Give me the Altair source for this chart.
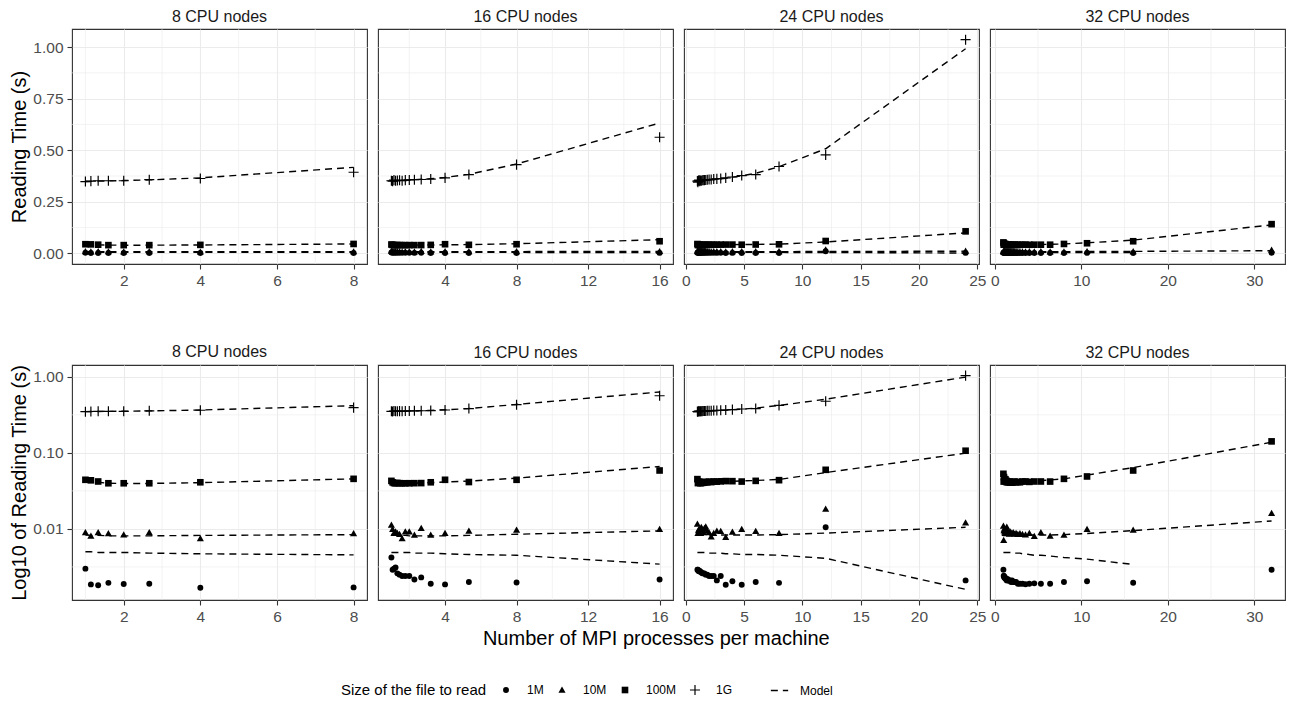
import altair as alt
import pandas as pd

FONT = "Liberation Sans"
SIZES = ["1M", "10M", "100M", "1G"]
NODES = [8, 16, 24, 32]

# ---- processes per machine (x) for each node count ----
X8 = [1, 1.143, 1.333, 1.6, 2, 2.667, 4, 8]
X16 = [1, 1.067, 1.143, 1.231, 1.333, 1.455, 1.6, 1.778, 2, 2.286, 2.667, 3.2, 4, 5.333, 8, 16]
X24 = [1, 1.043, 1.091, 1.143, 1.2, 1.263, 1.333, 1.412, 1.5, 1.6, 1.714, 1.846, 2, 2.182,
       2.4, 2.667, 3, 3.429, 4, 4.8, 6, 8, 12, 24]
X32 = [1, 1.032, 1.067, 1.103, 1.143, 1.185, 1.231, 1.28, 1.333, 1.391, 1.455, 1.524, 1.6,
       1.684, 1.778, 1.882, 2, 2.133, 2.286, 2.462, 2.667, 2.909, 3.2, 3.556, 4, 4.571, 5.333,
       6.4, 8, 10.667, 16, 32]

# ---- measured reading times (s) ----
T8_1M = [0.0030, 0.00186, 0.00181, 0.00195, 0.00188, 0.0019, 0.00168, 0.0017]
T8_10M = [0.0090, 0.0081, 0.0090, 0.0087, 0.0084, 0.0090, 0.0075, 0.0087]
T8_100M = [0.0442, 0.0435, 0.0420, 0.0398, 0.0398, 0.0398, 0.0410, 0.0455]
T8_1G = [0.348, 0.350, 0.352, 0.352, 0.352, 0.357, 0.363, 0.393]

T16_1M = [0.0042, 0.0029, 0.0030, 0.0031, 0.0026, 0.0025, 0.0024, 0.0024, 0.0024, 0.00216,
          0.0023, 0.0019, 0.00186, 0.0020, 0.00197, 0.00216]
T16_10M = [0.0113, 0.0099, 0.0088, 0.0092, 0.0088, 0.0085, 0.0075, 0.0092, 0.0092, 0.0083,
           0.0102, 0.0083, 0.0088, 0.0094, 0.0097, 0.0099]
T16_100M = [0.0428, 0.0409, 0.0400, 0.0398, 0.0402, 0.0399, 0.0397, 0.0398, 0.0398, 0.0399,
            0.0400, 0.0410, 0.0442, 0.0413, 0.0442, 0.0586]
T16_1G = [0.352, 0.350, 0.355, 0.352, 0.353, 0.354, 0.352, 0.355, 0.356, 0.357, 0.358, 0.360,
          0.366, 0.382, 0.430, 0.563]

T24_1M = [0.0029, 0.0029, 0.0028, 0.0028, 0.0028, 0.0027, 0.0027, 0.0026, 0.0026, 0.0026,
          0.0025, 0.0025, 0.0024, 0.0024, 0.0024, 0.0021, 0.0024, 0.00184, 0.00205, 0.00184,
          0.0020, 0.00195, 0.0105, 0.0021]
T24_10M = [0.0116, 0.0088, 0.0095, 0.0100, 0.0092, 0.0088, 0.0105, 0.0098, 0.0090, 0.0102,
           0.0107, 0.0094, 0.0090, 0.0079, 0.0088, 0.0094, 0.0093, 0.0078, 0.0091, 0.0099,
           0.0093, 0.0088, 0.0183, 0.0121]
T24_100M = [0.0451, 0.0400, 0.0420, 0.0405, 0.0415, 0.0398, 0.0410, 0.0402, 0.0412, 0.0405,
            0.0415, 0.0410, 0.0418, 0.0412, 0.0420, 0.0418, 0.0422, 0.0425, 0.0424, 0.0419,
            0.0428, 0.0437, 0.0598, 0.1066]
T24_1G = [0.350, 0.345, 0.352, 0.355, 0.350, 0.353, 0.352, 0.354, 0.355, 0.355, 0.356, 0.357,
          0.358, 0.358, 0.360, 0.361, 0.363, 0.366, 0.370, 0.377, 0.382, 0.421, 0.477, 1.036]

T32_1M = [0.0029, 0.0024, 0.0024, 0.0023, 0.0023, 0.0023, 0.0022, 0.0022, 0.0022, 0.0021,
          0.0022, 0.0021, 0.0021, 0.0021, 0.0021, 0.0020, 0.0021, 0.0020, 0.0020, 0.0020,
          0.0019, 0.0019, 0.0019, 0.00187, 0.0019, 0.00192, 0.0019, 0.0019, 0.0020, 0.00205,
          0.00196, 0.0029]
T32_10M = [0.0109, 0.0071, 0.0095, 0.0100, 0.0092, 0.0088, 0.0098, 0.0090, 0.0087, 0.0106,
           0.0095, 0.0090, 0.0088, 0.0086, 0.0092, 0.0089, 0.0087, 0.0090, 0.0086, 0.0088,
           0.0085, 0.0087, 0.0085, 0.0084, 0.0088, 0.0080, 0.0090, 0.0081, 0.0083, 0.0099,
           0.0097, 0.0161]
T32_100M = [0.0530, 0.0419, 0.0480, 0.0450, 0.0440, 0.0430, 0.0450, 0.0420, 0.0430, 0.0410,
            0.0420, 0.0415, 0.0410, 0.0420, 0.0405, 0.0410, 0.0405, 0.0410, 0.0420, 0.0410,
            0.0415, 0.0410, 0.0420, 0.0420, 0.0415, 0.0420, 0.0420, 0.0419, 0.0455, 0.0489,
            0.0586, 0.1415]
T32_1G = [None] * 32

# ---- model predictions (s) ----
M8_1M = [0.0050, 0.0050, 0.0049, 0.0049, 0.0049, 0.0048, 0.0047, 0.00455]
M8_10M = [0.0083, 0.0082, 0.0082, 0.0081, 0.0081, 0.0081, 0.0082, 0.0084]
M8_100M = [0.0435, 0.0425, 0.0410, 0.0398, 0.0395, 0.0396, 0.0405, 0.0455]
M8_1G = [0.348, 0.349, 0.350, 0.351, 0.353, 0.356, 0.366, 0.417]

M16_1M = [0.0049, 0.0049, 0.0049, 0.0049, 0.0049, 0.0049, 0.0049, 0.0049, 0.0049, 0.0048,
          0.0048, 0.0048, 0.0047, 0.0046, 0.0045, 0.00344]
M16_10M = [0.0085, 0.0084, 0.0084, 0.0083, 0.0083, 0.0082, 0.0082, 0.0082, 0.0081, 0.0081,
           0.0081, 0.0081, 0.0081, 0.0082, 0.0085, 0.0094]
M16_100M = [0.0405, 0.0403, 0.0401, 0.0400, 0.0399, 0.0398, 0.0398, 0.0398, 0.0399, 0.0400,
            0.0402, 0.0406, 0.0413, 0.0425, 0.0465, 0.0662]
M16_1G = [0.350, 0.350, 0.351, 0.351, 0.352, 0.352, 0.353, 0.354, 0.355, 0.357, 0.359, 0.362,
          0.368, 0.383, 0.433, 0.632]

M24_1M = [0.0049, 0.0049, 0.0049, 0.0049, 0.0049, 0.0049, 0.0049, 0.0049, 0.0049, 0.0049,
          0.0049, 0.0049, 0.0048, 0.0048, 0.0048, 0.0048, 0.0048, 0.0047, 0.0047, 0.0046,
          0.0046, 0.0045, 0.0041, 0.0016]
M24_10M = [0.0086, 0.0086, 0.0085, 0.0085, 0.0085, 0.0084, 0.0084, 0.0084, 0.0083, 0.0083,
           0.0083, 0.0083, 0.0083, 0.0083, 0.0083, 0.0083, 0.0083, 0.0083, 0.0083, 0.0083,
           0.0083, 0.0084, 0.0088, 0.0105]
M24_100M = [0.0420, 0.0420, 0.0419, 0.0419, 0.0418, 0.0418, 0.0418, 0.0418, 0.0418, 0.0418,
            0.0418, 0.0418, 0.0418, 0.0418, 0.0419, 0.0419, 0.0420, 0.0421, 0.0423, 0.0427,
            0.0433, 0.0447, 0.0550, 0.0990]
M24_1G = [0.349, 0.349, 0.349, 0.350, 0.350, 0.350, 0.351, 0.351, 0.352, 0.352, 0.353, 0.354,
          0.355, 0.356, 0.357, 0.359, 0.361, 0.364, 0.369, 0.376, 0.388, 0.420, 0.507, 0.992]

M32_1M = [0.0049, 0.0049, 0.0049, 0.0049, 0.0049, 0.0049, 0.0049, 0.0049, 0.0049, 0.0049,
          0.0049, 0.0049, 0.0049, 0.0049, 0.0049, 0.0049, 0.0048, 0.0048, 0.0048, 0.0048,
          0.0048, 0.0048, 0.0047, 0.0047, 0.0046, 0.0045, 0.0045, 0.0044, 0.0042, 0.0040,
          0.0034, None]
M32_10M = [0.0084, 0.0084, 0.0084, 0.0084, 0.0084, 0.0084, 0.0084, 0.0083, 0.0083, 0.0083,
           0.0083, 0.0083, 0.0083, 0.0083, 0.0083, 0.0083, 0.0083, 0.0083, 0.0083, 0.0083,
           0.0083, 0.0083, 0.0083, 0.0083, 0.0083, 0.0083, 0.0083, 0.0083, 0.0084, 0.0087,
           0.0095, 0.0127]
M32_100M = [0.0425, 0.0424, 0.0423, 0.0422, 0.0421, 0.0420, 0.0420, 0.0419, 0.0419, 0.0418,
            0.0418, 0.0418, 0.0418, 0.0418, 0.0418, 0.0418, 0.0418, 0.0418, 0.0418, 0.0419,
            0.0419, 0.0420, 0.0421, 0.0422, 0.0424, 0.0427, 0.0432, 0.0440, 0.0455, 0.0510,
            0.0640, 0.1380]
M32_1G = [None] * 32

# ---- axis breaks ----
XTICKS = {8: [2, 4, 6, 8], 16: [4, 8, 12, 16], 24: [0, 5, 10, 15, 20, 25], 32: [0, 10, 20, 30]}
XMINOR = {8: [1, 3, 5, 7], 16: [2, 6, 10, 14], 24: [2.5, 7.5, 12.5, 17.5, 22.5], 32: [5, 15, 25]}
Y_LIN_TICKS = [0, 0.25, 0.5, 0.75, 1.0]
Y_LIN_MINOR = [0.125, 0.375, 0.625, 0.875]
Y_LOG_TICKS = [0.01, 0.1, 1.0]
Y_LOG_MINOR = [0.00316, 0.0316, 0.316]

XS = {8: X8, 16: X16, 24: X24, 32: X32}
MEAS = {
    8: [T8_1M, T8_10M, T8_100M, T8_1G],
    16: [T16_1M, T16_10M, T16_100M, T16_1G],
    24: [T24_1M, T24_10M, T24_100M, T24_1G],
    32: [T32_1M, T32_10M, T32_100M, T32_1G],
}
MODEL = {
    8: [M8_1M, M8_10M, M8_100M, M8_1G],
    16: [M16_1M, M16_10M, M16_100M, M16_1G],
    24: [M24_1M, M24_10M, M24_100M, M24_1G],
    32: [M32_1M, M32_10M, M32_100M, M32_1G],
}

pts_rows, mod_rows = [], []
for n in NODES:
    for s, tv, mv in zip(SIZES, MEAS[n], MODEL[n], strict=True):
        for x, t in zip(XS[n], tv, strict=True):
            if t is not None:
                pts_rows.append({"nodes": n, "x": x, "t": t, "size": s})
        for x, m in zip(XS[n], mv, strict=True):
            if m is not None:
                mod_rows.append({"nodes": n, "x": x, "m": m, "size": s, "lt": "Model"})
df_pts = pd.DataFrame(pts_rows)
df_mod = pd.DataFrame(mod_rows)

# glyph outlines in Vega's unit symbol coordinates
TRI = "M0,-1.15L1.2,0.95L-1.2,0.95Z"
SQR = "M-1.12,-1.12H1.12V1.12H-1.12Z"
PLUS = "M-1.7,-0.2H-0.2V-1.7H0.2V-0.2H1.7V0.2H0.2V1.7H-0.2V0.2H-1.7Z"
GRID = "#EBEBEB"
PW, PH = 295, 235

shape_enc = alt.Shape(
    "size:N",
    scale=alt.Scale(domain=SIZES, range=["circle", TRI, SQR, PLUS]),
    legend=alt.Legend(
        title="Size of the file to read", orient="none", legendX=269, legendY=655,
        direction="horizontal", titleOrient="left", titleFontSize=15,
        titleFontWeight="normal", titleColor="black", titlePadding=13,
        titleBaseline="middle", labelFontSize=12, labelColor="black",
        symbolFillColor="black", symbolStrokeColor="black", symbolStrokeWidth=0,
        symbolSize=35, labelOffset=15, columnPadding=12,
    ),
)
dash_enc = alt.StrokeDash(
    "lt:N",
    scale=alt.Scale(domain=["Model"], range=[[7, 5]]),
    legend=alt.Legend(
        title=None, orient="none", legendX=698, legendY=652,
        labelFontSize=12, labelColor="black", symbolType="stroke",
        symbolStrokeColor="black", symbolStrokeWidth=1.4, symbolSize=300,
        labelOffset=11,
    ),
)


def panel(n, row):
    xs = XS[n]
    lo, hi = min(xs), max(xs)
    pad = 0.05 * (hi - lo)
    xscale = alt.Scale(domain=[lo - pad, hi + pad], nice=False, zero=False)
    xaxis = alt.Axis(values=XTICKS[n], format="d", title=None, grid=True)
    first = n == 8
    if row == 0:
        yscale = alt.Scale(domain=[-0.0517, 1.0877], nice=False, zero=False)
        yvals, yminor, ytitle = Y_LIN_TICKS, Y_LIN_MINOR, "Reading Time (s)"
    else:
        yscale = alt.Scale(type="log", domain=[0.00116, 1.43], nice=False)
        yvals, yminor, ytitle = Y_LOG_TICKS, Y_LOG_MINOR, "Log10 of Reading Time (s)"
    if first:
        yaxis = alt.Axis(values=yvals, format=".2f", title=ytitle, grid=True)
    else:
        yaxis = alt.Axis(values=yvals, title=None, labels=False, ticks=False, grid=True)

    xminor = alt.Chart(pd.DataFrame({"v": XMINOR[n]})).mark_rule(
        color=GRID, strokeWidth=0.6).encode(x=alt.X("v:Q", scale=xscale, axis=xaxis))
    yminor_l = alt.Chart(pd.DataFrame({"v": yminor})).mark_rule(
        color=GRID, strokeWidth=0.6).encode(y=alt.Y("v:Q", scale=yscale, axis=yaxis))
    lines = alt.Chart(df_mod[df_mod.nodes == n]).mark_line(
        color="black", strokeWidth=1.4).encode(
        x=alt.X("x:Q", scale=xscale, axis=xaxis),
        y=alt.Y("m:Q", scale=yscale, axis=yaxis),
        detail="size:N",
        order=alt.Order("x:Q"),
        strokeDash=dash_enc,
    )
    points = alt.Chart(df_pts[df_pts.nodes == n]).mark_point(
        filled=True, color="black", fill="black", strokeWidth=0,
        size=35, opacity=1).encode(
        x=alt.X("x:Q", scale=xscale, axis=xaxis),
        y=alt.Y("t:Q", scale=yscale, axis=yaxis),
        shape=shape_enc,
    )
    return alt.layer(xminor, yminor_l, lines, points).properties(
        width=PW, height=PH,
        title=alt.TitleParams(f"{n} CPU nodes", fontSize=16, fontWeight="normal",
                              color="#1A1A1A", anchor="middle", offset=4),
    )


row0 = alt.hconcat(*[panel(n, 0) for n in NODES], spacing=11, bounds="flush")
row1 = alt.hconcat(*[panel(n, 1) for n in NODES], spacing=11, bounds="flush").properties(
    title=alt.TitleParams("Number of MPI processes per machine", orient="bottom",
                          anchor="middle", fontSize=20, fontWeight="normal",
                          color="black", offset=4, dx=9)
)

chart = alt.vconcat(row0, row1, spacing=53).properties(
    padding=0
).configure(font=FONT).configure_view(
    stroke="#333333", strokeWidth=1.1
).configure_axis(
    domain=False, labelFont=FONT, labelFontSize=15.5, labelColor="#4D4D4D",
    tickColor="#333333", tickSize=5, tickWidth=1.1, labelPadding=4,
    gridColor=GRID, gridWidth=1.1, titleFont=FONT, titleFontSize=20,
    titleFontWeight="normal", titleColor="black", titlePadding=3.5,
).configure_legend(
    labelFont=FONT, titleFont=FONT,
)

chart.save("out.html", embed_options={"renderer": "svg", "actions": False})
